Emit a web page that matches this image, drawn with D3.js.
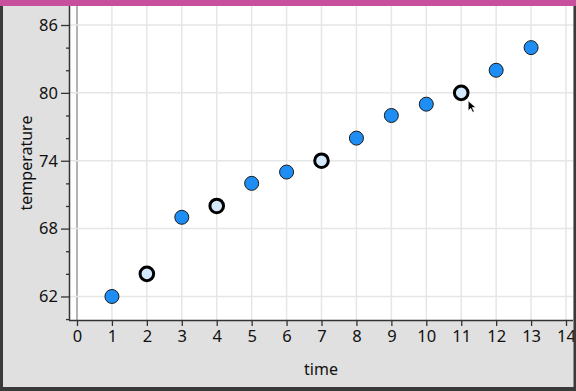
<!DOCTYPE html>
<html><head><meta charset="utf-8">
<script src="https://cdn.jsdelivr.net/npm/d3@7"></script>
<style>html,body{margin:0;padding:0;background:#e0e0e0;}svg{display:block;}</style>
</head><body>
<script>
const times = [1,2,3,4,5,6,7,8,9,10,11,12,13];
const temperatures = [62,64,69,70,72,73,74,76,78,79,80,82,84];
const selectedTimes = [2,4,7,11];
const xTickValues = [0,1,2,3,4,5,6,7,8,9,10,11,12,13,14];
const yTickValues = [62,68,74,80,86];
const yMinorTickValues = [60,64,66,70,72,76,78,82,84];
const xLabel = "time";
const yLabel = "temperature";

const W = 576, H = 391;
const svg = d3.select("body").append("svg").attr("width", W).attr("height", H);
svg.append("rect").attr("width", W).attr("height", H).attr("fill", "#e0e0e0");

const L = 69, R = 573, T = 6, B = 320;
const x = d3.scaleLinear().domain([-0.229, 14.2]).range([L, R]);
const y = d3.scaleLinear().domain([59.92, 87.68]).range([B, T]);

svg.append("rect").attr("x", L).attr("y", T).attr("width", R - L).attr("height", B - T).attr("fill", "#fff");

// grid
const g = svg.append("g");
g.selectAll(".gx").data(xTickValues).join("line")
  .attr("x1", d => x(d)).attr("x2", d => x(d)).attr("y1", T).attr("y2", B)
  .attr("stroke", d => d === 0 ? "#9a9a9a" : "#e6e6e6").attr("stroke-width", 1.5);
g.selectAll(".gy").data(yTickValues).join("line")
  .attr("x1", L).attr("x2", R).attr("y1", d => y(d)).attr("y2", d => y(d))
  .attr("stroke", "#e6e6e6").attr("stroke-width", 1.5);

const font = "'Noto Sans', 'Open Sans', sans-serif";

// axes
const xAxis = d3.axisBottom(x).tickValues(xTickValues).tickSize(6).tickPadding(4).tickFormat(d3.format("d"));
const xg = svg.append("g").attr("transform", `translate(0,${B})`).call(xAxis);
xg.select(".domain").attr("stroke", "#333").attr("stroke-width", 1.5).attr("d", `M${L},0.5H${R}`);
xg.selectAll(".tick line").attr("stroke", "#333").attr("stroke-width", 1.3);
xg.selectAll("text").attr("font-family", font).attr("font-size", 16.5).attr("fill", "#111");

const yAxis = d3.axisLeft(y).tickValues(yTickValues).tickSize(8).tickPadding(3).tickFormat(d3.format("d"));
const yg = svg.append("g").attr("transform", `translate(${L},0)`).call(yAxis);
yg.select(".domain").attr("stroke", "#333").attr("stroke-width", 1.5).attr("d", `M0.5,${T}V${B}`);
yg.selectAll(".tick line").attr("stroke", "#333").attr("stroke-width", 1.3);
yg.selectAll("text").attr("font-family", font).attr("font-size", 16.5).attr("fill", "#111");

const yMinor = d3.axisLeft(y).tickValues(yMinorTickValues).tickSize(3).tickFormat("");
const ymg = svg.append("g").attr("transform", `translate(${L},0)`).call(yMinor);
ymg.select(".domain").remove();
ymg.selectAll(".tick line").attr("stroke", "#333").attr("stroke-width", 1.3);

// axis titles
svg.append("text").attr("x", 321).attr("y", 375).attr("text-anchor", "middle")
  .attr("font-family", font).attr("font-size", 16).attr("fill", "#111").text(xLabel);
svg.append("text").attr("transform", `translate(32,${(T + B) / 2}) rotate(-90)`).attr("text-anchor", "middle")
  .attr("font-family", font).attr("font-size", 16).attr("fill", "#111").text(yLabel);

// points
const data = times.map((t, i) => ({t, v: temperatures[i], sel: selectedTimes.includes(t)}));
svg.append("g").selectAll("circle").data(data).join("circle")
  .attr("cx", d => x(d.t)).attr("cy", d => y(d.v))
  .attr("r", d => d.sel ? 6.8 : 7)
  .attr("fill", d => d.sel ? "#d3e8fc" : "#1e8ef5")
  .attr("stroke", d => d.sel ? "#000" : "#1a1a1a")
  .attr("stroke-width", d => d.sel ? 3 : 1);

// mouse cursor near selected point 11
const cx = x(11) + 7, cy = y(80) + 8;
svg.append("path")
  .attr("d", `M${cx},${cy} l0,10 l2.5,-2.5 l2,4 l1.5,-0.8 l-2,-4 l3.5,0 Z`)
  .attr("fill", "#000").attr("stroke", "#fff").attr("stroke-width", 0.6);

// frame
svg.append("rect").attr("x", 0).attr("y", 0).attr("width", W).attr("height", 6).attr("fill", "#c6509b");
svg.append("rect").attr("x", 0).attr("y", 6).attr("width", 3).attr("height", H - 6).attr("fill", "#3a3a3a");
svg.append("rect").attr("x", W - 2.5).attr("y", 6).attr("width", 2.5).attr("height", H - 6).attr("fill", "#3a3a3a");
svg.append("rect").attr("x", 0).attr("y", H - 4).attr("width", W).attr("height", 4).attr("fill", "#3a3a3a");
</script>
</body></html>
